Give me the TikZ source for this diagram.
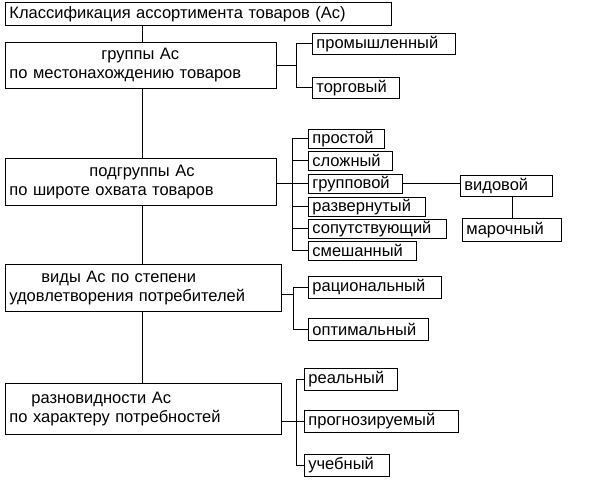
\documentclass[tikz,border=0pt]{standalone}
\usepackage{fontspec}
\setmainfont{Liberation Sans}
\begin{document}
\begin{tikzpicture}[x=1pt,y=-1pt,
  bx/.style={draw,line width=0.8pt,inner xsep=4pt,inner ysep=0pt,anchor=north west,font=\fontsize{16.5}{19}\selectfont,align=left},
  ln/.style={line width=0.8pt}]
\useasboundingbox (0,0) rectangle (600,489);
\newcommand\bx[6]{\node[bx,text width=#4-#2-8,minimum height=#5-#3] (#1) at (#2,#3) {#6};}
\bx{top}{5}{2}{391}{25}{Классификация ассортимента товаров (Ас)}
\bx{b1}{5}{42}{276}{88}{\hspace*{92pt}группы Ас\\по местонахождению товаров}
\bx{b2}{5}{158}{276}{205}{\hspace*{80pt}подгруппы Ас\\по широте охвата товаров}
\bx{b3}{5}{264}{281}{311}{\hspace*{32pt}виды Ас по степени\\удовлетворения потребителей}
\bx{b4}{5}{383}{281}{434}{\hspace*{22pt}разновидности Ас\\по характеру потребностей}
\coordinate (X) at (142,0);
\draw[ln] (top.south -| X) -- (b1.north -| X);
\draw[ln] (b1.south -| X) -- (b2.north -| X);
\draw[ln] (b2.south -| X) -- (b3.north -| X);
\draw[ln] (b3.south -| X) -- (b4.north -| X);
% group 1
\bx{p1}{312}{33}{455}{54}{промышленный}
\bx{p2}{312}{77}{399}{98}{торговый}
\coordinate (V1) at (296,65);
\draw[ln] (b1.east |- V1) -- (V1);
\draw[ln] (p1.west -| V1) -- (p1.west);
\draw[ln] (p2.west -| V1) -- (p2.west);
\draw[ln] (p1.west -| V1) -- (p2.west -| V1);
% group 2
\bx{s1}{308}{129}{384}{148}{простой}
\bx{s2}{308}{151}{392}{170}{сложный}
\bx{s3}{308}{174}{402}{193}{групповой}
\bx{s4}{308}{197}{425}{216}{развернутый}
\bx{s5}{308}{219}{446}{238}{сопутствующий}
\bx{s6}{308}{241}{416}{260}{смешанный}
\coordinate (V2) at (292,183);
\draw[ln] (b2.east |- V2) -- (V2);
\draw[ln] (s1.west -| V2) -- (s6.west -| V2);
\foreach \n in {s1,s2,s3,s4,s5,s6} \draw[ln] (\n.west -| V2) -- (\n.west);
\bx{v1}{460}{175}{552}{196}{видовой}
\bx{v2}{462}{218}{561}{241}{марочный}
\draw[ln] (s3.east) -- (s3.east -| v1.west);
\draw[ln] (v2.north |- v1.south) -- (v2.north);
% group 3
\bx{r1}{308}{276}{441}{298}{рациональный}
\bx{r2}{308}{318}{428}{340}{оптимальный}
\coordinate (V3) at (293,294);
\draw[ln] (b3.east |- V3) -- (V3);
\draw[ln] (r1.west -| V3) -- (r1.west);
\draw[ln] (r2.west -| V3) -- (r2.west);
\draw[ln] (r1.west -| V3) -- (r2.west -| V3);
% group 4
\bx{t1}{304}{368}{397}{390}{реальный}
\bx{t2}{304}{410}{458}{432}{прогнозируемый}
\bx{t3}{304}{454}{389}{476}{учебный}
\coordinate (V4) at (296,421);
\draw[ln] (b4.east |- V4) -- (V4);
\draw[ln] (t1.west -| V4) -- (t3.west -| V4);
\foreach \n in {t1,t2,t3} \draw[ln] (\n.west -| V4) -- (\n.west);
\end{tikzpicture}
\end{document}
